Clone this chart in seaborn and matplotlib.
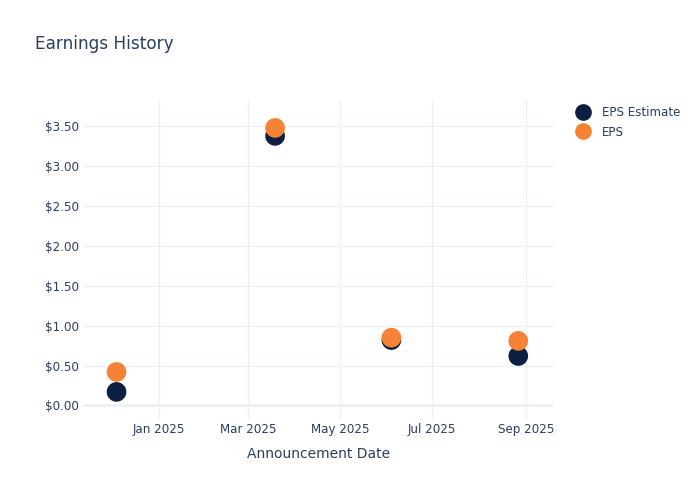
import pandas as pd
import matplotlib
matplotlib.use("Agg")
import matplotlib.pyplot as plt
import matplotlib.dates as mdates
from matplotlib.ticker import FuncFormatter
import seaborn as sns

# Data
dates = ["2024-12-04", "2025-03-19", "2025-06-04", "2025-08-27"]
eps_estimate = [0.17, 3.38, 0.82, 0.62]
eps_actual = [0.42, 3.48, 0.85, 0.81]

df = pd.DataFrame({
    "date": pd.to_datetime(dates * 2),
    "value": eps_estimate + eps_actual,
    "series": ["EPS Estimate"] * 4 + ["EPS"] * 4,
})

text_color = "#2a3f5f"
grid_color = "#ebf0f8"

sns.set_theme(style="white")
plt.rcParams["font.family"] = ["DejaVu Sans"]

fig = plt.figure(figsize=(7, 5), dpi=100)
ax = fig.add_axes([0.119, 0.162, 0.671, 0.638])

sns.scatterplot(
    data=df, x="date", y="value", hue="series",
    palette={"EPS Estimate": "#0c1f40", "EPS": "#f58235"},
    s=200, linewidth=0, ax=ax, zorder=3,
)

# Axes styling (plotly_white look)
for spine in ax.spines.values():
    spine.set_visible(False)
ax.grid(True, color=grid_color, linewidth=1)
ax.axhline(0, color=grid_color, linewidth=2, zorder=1)
ax.set_axisbelow(True)

ax.set_xlim(pd.Timestamp("2024-11-12"), pd.Timestamp("2025-09-19"))
ax.set_ylim(-0.17, 3.83)

ax.xaxis.set_major_locator(mdates.MonthLocator(bymonth=[1, 3, 5, 7, 9]))
ax.xaxis.set_major_formatter(mdates.DateFormatter("%b %Y"))
ax.set_yticks([0, 0.5, 1, 1.5, 2, 2.5, 3, 3.5])
ax.yaxis.set_major_formatter(FuncFormatter(lambda v, p: f"${v:.2f}"))
ax.tick_params(axis="both", colors=text_color, labelsize=8.6, length=0, pad=3)

ax.set_xlabel("Announcement Date", color=text_color, fontsize=10, labelpad=8)
ax.set_ylabel("")

fig.text(0.05, 0.912, "Earnings History", color=text_color, fontsize=12.2,
         va="center")

leg = ax.legend(
    loc="upper left", bbox_to_anchor=(1.015, 1.015), frameon=False,
    fontsize=8.6, labelspacing=0.55, handletextpad=0.6, markerscale=0.85,
)
for t in leg.get_texts():
    t.set_color(text_color)

fig.savefig("out.png", dpi=100)
